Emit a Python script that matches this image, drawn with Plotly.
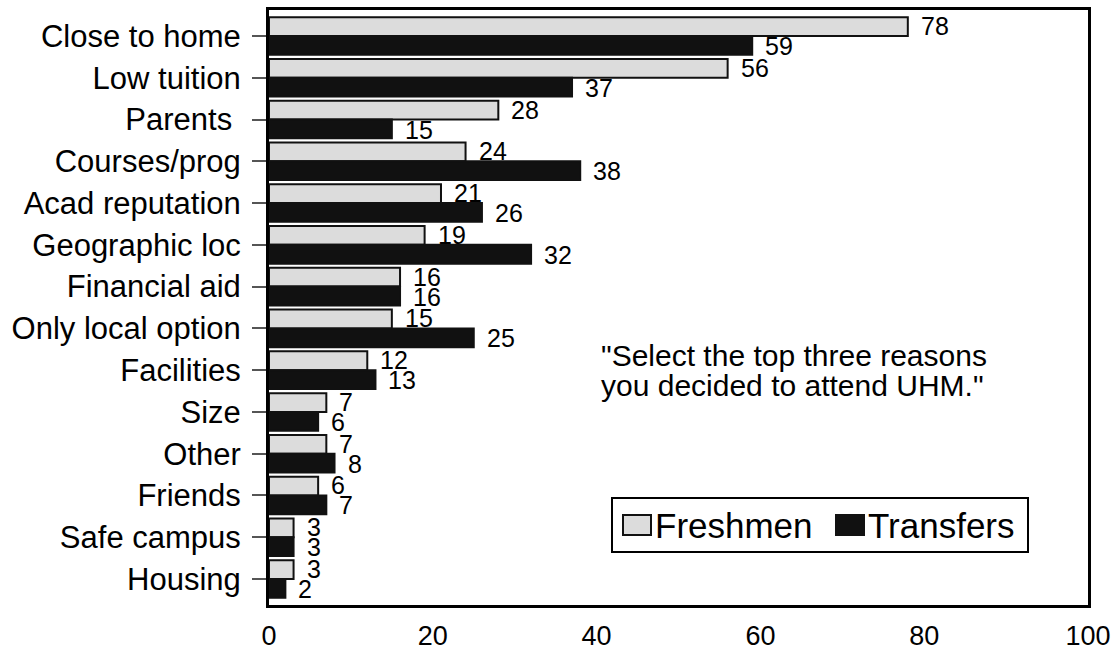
import plotly.graph_objects as go

categories = ["Close to home", "Low tuition", "Parents ", "Courses/prog", "Acad reputation",
              "Geographic loc", "Financial aid", "Only local option", "Facilities", "Size",
              "Other", "Friends", "Safe campus", "Housing"]
freshmen = [78, 56, 28, 24, 21, 19, 16, 15, 12, 7, 7, 6, 3, 3]
transfers = [59, 37, 15, 38, 26, 32, 16, 25, 13, 6, 8, 7, 3, 2]
x_ticks = [0, 20, 40, 60, 80, 100]
series_names = ["Freshmen", "Transfers"]
series_colors = ["#dcdcdc", "#111111"]
note_lines = ['"Select the top three reasons', 'you decided to attend UHM."']

FONT = "Liberation Sans, Arial, sans-serif"
W, H = 1120, 654
L, R, T, B = 269, 32, 10, 49
PW, PH = W - L - R, H - T - B


def px(x):
    return (x - L) / PW


def py(y):
    return (H - B - y) / PH


fig = go.Figure()
for name, vals, col in zip(series_names, [freshmen, transfers], series_colors):
    fig.add_trace(go.Bar(name=name, y=categories, x=vals, orientation="h", showlegend=False,
                         marker=dict(color=col, line=dict(color="#111111", width=2))))

annotations = []
for vals, ys in [(freshmen, 10), (transfers, -10)]:
    for cat, v in zip(categories, vals):
        annotations.append(dict(x=v, y=cat, text=str(v), showarrow=False, xanchor="left",
                                xshift=11, yshift=ys,
                                font=dict(size=25, color="black", family=FONT)))

# note text
for line, yp in zip(note_lines, [356, 385]):
    annotations.append(dict(xref="paper", yref="paper", x=px(599), y=py(yp), xanchor="left",
                            yanchor="middle", align="left", showarrow=False, text=line,
                            font=dict(size=30, color="black", family=FONT)))

# manual legend
shapes = [dict(type="rect", xref="paper", yref="paper", x0=px(612), x1=px(1028),
               y0=py(552), y1=py(498), line=dict(color="black", width=2), fillcolor="white",
               layer="above")]
for name, col, sx in zip(series_names, series_colors, [623, 836]):
    shapes.append(dict(type="rect", xref="paper", yref="paper", x0=px(sx), x1=px(sx + 28),
                       y0=py(535), y1=py(515), line=dict(color="#111111", width=2),
                       fillcolor=col, layer="above"))
    annotations.append(dict(xref="paper", yref="paper", x=px(sx + 30), y=py(525),
                            xanchor="left", yanchor="middle", showarrow=False, text=name,
                            font=dict(size=35, color="black", family=FONT)))

fig.update_layout(
    width=W, height=H,
    margin=dict(l=L, r=R, t=T, b=B, autoexpand=False),
    paper_bgcolor="white", plot_bgcolor="white",
    barmode="group", bargap=0.1, bargroupgap=0.0,
    font=dict(family=FONT, size=24, color="black"),
    annotations=annotations, shapes=shapes,
    showlegend=False,
    xaxis=dict(range=[0, 100], tickvals=x_ticks, showgrid=False, zeroline=False,
               showline=True, linecolor="black", linewidth=3, mirror=True, automargin=False,
               ticks="", ticklabelstandoff=5, tickfont=dict(size=27)),
    yaxis=dict(autorange="reversed", showgrid=False, showline=True, linecolor="black",
               linewidth=3, mirror=True, ticks="outside", ticklen=14, tickwidth=1.5,
               automargin=False,
               tickcolor="#555555", ticklabelstandoff=5, tickfont=dict(size=31)),
)

fig.write_html("out.html", config={"displayModeBar": False},
               post_script="document.body.style.margin='0';")
